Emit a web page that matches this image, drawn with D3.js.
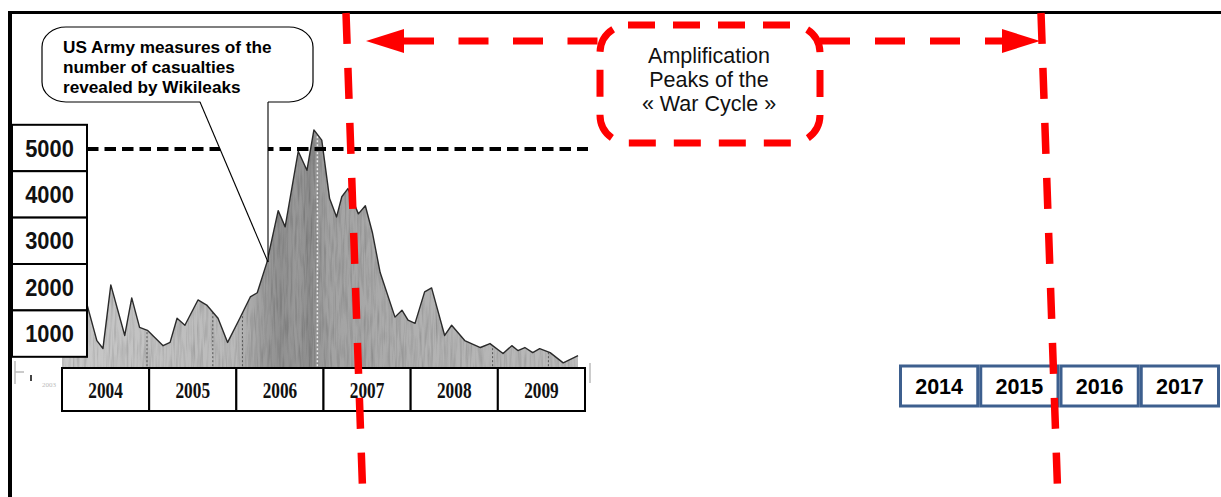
<!DOCTYPE html>
<html><head><meta charset="utf-8">
<script src="https://cdn.jsdelivr.net/npm/d3@7"></script>
<style>html,body{margin:0;padding:0;background:#fff;overflow:hidden}svg{display:block}</style>
</head><body>
<svg id="chart" width="1221" height="497"></svg>
<script>
// ---------------- data ----------------
const casualtyYears = [2004.00, 2004.09, 2004.17, 2004.25, 2004.40, 2004.47, 2004.56, 2004.72, 2004.80, 2004.89,
  2004.98, 2005.16, 2005.24, 2005.32, 2005.41, 2005.56, 2005.66, 2005.79, 2005.90, 2006.04,
  2006.16, 2006.24, 2006.35, 2006.48, 2006.56, 2006.71, 2006.81, 2006.89, 2006.98, 2007.07,
  2007.15, 2007.21, 2007.28, 2007.40, 2007.48, 2007.56, 2007.65, 2007.82, 2007.90, 2007.97,
  2008.05, 2008.16, 2008.24, 2008.39, 2008.47, 2008.62, 2008.80, 2008.91, 2009.06, 2009.16,
  2009.23, 2009.31, 2009.40, 2009.48, 2009.60, 2009.75, 2009.92];
const casualtyValues = [1400, 1600, 1350, 1880, 850, 680, 2050, 960, 1770, 1135,
  1070, 740, 810, 1330, 1180, 1725, 1615, 1330, 810, 1330,
  1790, 1880, 2530, 3650, 3300, 4930, 4520, 5390, 5170, 3910,
  3515, 3950, 4125, 3580, 3755, 3185, 2315, 1355, 1505, 1290,
  1220, 1900, 1985, 960, 1180, 850, 700, 785, 570, 740,
  635, 700, 590, 675, 590, 370, 525];
const yTickValues = [5000, 4000, 3000, 2000, 1000];
const thresholdValue = 5000;
const historyYears = ["2004", "2005", "2006", "2007", "2008", "2009"];
const futureYears = ["2014", "2015", "2016", "2017"];
const darkGridYears = [2004.975, 2005.73, 2006.07, 2008.94, 2009.58];
const lightGridYears = [2006.93];
const calloutLines = ["US Army measures of the", "number of casualties", "revealed by Wikileaks"];
const cycleLines = ["Amplification", "Peaks of the", "« War Cycle »"];
const sourceNote = "2003";

// ---------------- setup ----------------
const svg = d3.select("#chart");
const W = 1221, H = 497;
const RED = "#ff0000";
const SANS = "'Liberation Sans', Arial, sans-serif";
const SERIF = "'Liberation Serif', 'Times New Roman', serif";

const x = d3.scaleLinear().domain([2004, 2010]).range([62, 585]);
const y = d3.scaleLinear().domain([0, 5000]).range([380, 148]);
const histBand = d3.scaleBand().domain(historyYears).range([62, 585]);
const futBand = d3.scaleBand().domain(futureYears).range([899, 1220]);
const labelStep = y(0) - y(1000);

const data = casualtyYears.map((t, i) => ({t, v: casualtyValues[i]}));

const defs = svg.append("defs");
const grad = defs.append("linearGradient").attr("id", "areaFill")
  .attr("gradientUnits", "userSpaceOnUse")
  .attr("x1", x(2004)).attr("x2", x(2010)).attr("y1", 0).attr("y2", 0);
[[2004.0, "#c9c9c9"], [2005.0, "#c2c2c2"], [2006.0, "#b9b9b9"], [2006.25, "#a2a2a2"],
 [2006.5, "#8f8f8f"], [2006.7, "#9a9a9a"], [2006.85, "#8c8c8c"], [2007.05, "#a2a2a2"], [2007.5, "#a8a8a8"],
 [2008.2, "#b2b2b2"], [2010, "#bdbdbd"]].forEach(([t, c]) => {
  grad.append("stop").attr("offset", (x(t) - x(2004)) / (x(2010) - x(2004))).attr("stop-color", c);
});
const grain = defs.append("filter").attr("id", "grain")
  .attr("x", 0).attr("y", 0).attr("width", 1).attr("height", 1);
grain.append("feTurbulence").attr("type", "fractalNoise").attr("baseFrequency", "0.45 0.035")
  .attr("numOctaves", 2).attr("seed", 7).attr("result", "t");
grain.append("feColorMatrix").attr("in", "t").attr("type", "saturate").attr("values", 0).attr("result", "g");
const ct = grain.append("feComponentTransfer").attr("in", "g").attr("result", "g2");
["feFuncR", "feFuncG", "feFuncB"].forEach(f => ct.append(f).attr("type", "linear").attr("slope", 0.9).attr("intercept", 0.48));
ct.append("feFuncA").attr("type", "linear").attr("slope", 0).attr("intercept", 1);
grain.append("feBlend").attr("in", "SourceGraphic").attr("in2", "g2").attr("mode", "multiply").attr("result", "b");
grain.append("feComposite").attr("in", "b").attr("in2", "SourceGraphic").attr("operator", "in");

const areaGen = d3.area().x(d => x(d.t)).y0(y(0)).y1(d => y(d.v));
defs.append("clipPath").attr("id", "areaClip").append("path").attr("d", areaGen(data));

// ---------------- frame ----------------
svg.append("line").attr("x1", 8).attr("x2", W).attr("y1", 12.5).attr("y2", 12.5)
  .attr("stroke", "#000").attr("stroke-width", 3);
svg.append("line").attr("x1", 10).attr("x2", 10).attr("y1", 11).attr("y2", H)
  .attr("stroke", "#000").attr("stroke-width", 4);

// ---------------- area ----------------
svg.append("path").attr("d", areaGen(data)).attr("fill", "url(#areaFill)").attr("filter", "url(#grain)");
const gridG = svg.append("g").attr("clip-path", "url(#areaClip)");
gridG.selectAll("line.dk").data(darkGridYears).join("line")
  .attr("x1", d => x(d)).attr("x2", d => x(d)).attr("y1", y(5600)).attr("y2", y(0))
  .attr("stroke", "#555").attr("stroke-width", 1).attr("stroke-dasharray", "2,2");
gridG.selectAll("line.lt").data(lightGridYears).join("line")
  .attr("x1", d => x(d)).attr("x2", d => x(d)).attr("y1", y(5600)).attr("y2", y(0))
  .attr("stroke", "#eee").attr("stroke-width", 1.5).attr("stroke-dasharray", "2,2");
svg.append("path").attr("d", d3.line().x(d => x(d.t)).y(d => y(d.v))(data))
  .attr("fill", "none").attr("stroke", "#2a2a2a").attr("stroke-width", 1.4).attr("stroke-linejoin", "round");

// threshold dashed line
svg.append("line").attr("x1", 87).attr("x2", 588)
  .attr("y1", y(thresholdValue) + 1).attr("y2", y(thresholdValue) + 1)
  .attr("stroke", "#000").attr("stroke-width", 4).attr("stroke-dasharray", "11.5,6");

// ---------------- callout ----------------
const cb = {x: 42, y: 27, w: 271, h: 75};
const tip = [268, 262];
svg.append("rect").attr("x", cb.x).attr("y", cb.y).attr("width", cb.w).attr("height", cb.h)
  .attr("rx", 24).attr("ry", 20).attr("fill", "#fff").attr("stroke", "#000").attr("stroke-width", 1.2);
svg.append("polygon").attr("points", `200,${cb.y + cb.h - 1} ${tip[0]},${tip[1]} ${tip[0]},${cb.y + cb.h - 1}`)
  .attr("fill", "#fff");
svg.append("line").attr("x1", 200).attr("y1", cb.y + cb.h).attr("x2", tip[0]).attr("y2", tip[1])
  .attr("stroke", "#000").attr("stroke-width", 1.1);
svg.append("line").attr("x1", tip[0]).attr("y1", cb.y + cb.h).attr("x2", tip[0]).attr("y2", tip[1])
  .attr("stroke", "#000").attr("stroke-width", 1.1);
svg.append("g").selectAll("text").data(calloutLines).join("text")
  .attr("x", 63).attr("y", (d, i) => 52.5 + i * 20)
  .attr("font-family", SANS).attr("font-weight", "bold").attr("font-size", 17.2)
  .attr("fill", "#000").text(d => d);

// ---------------- y label boxes ----------------
const yl = svg.append("g");
yl.selectAll("rect").data(yTickValues).join("rect")
  .attr("x", 12).attr("y", d => y(d) - labelStep / 2).attr("width", 75).attr("height", labelStep)
  .attr("fill", "#fff").attr("stroke", "#000").attr("stroke-width", 2);
yl.selectAll("text").data(yTickValues).join("text")
  .attr("transform", d => `translate(49.5,${y(d) + 8.5}) scale(0.95,1.08)`).attr("text-anchor", "middle")
  .attr("font-family", SANS).attr("font-weight", "bold").attr("font-size", 23)
  .attr("fill", "#111").text(d => d);

// ---------------- history year boxes ----------------
const hy = svg.append("g");
hy.selectAll("rect").data(historyYears).join("rect")
  .attr("x", d => histBand(d)).attr("y", 368).attr("width", histBand.bandwidth()).attr("height", 43)
  .attr("fill", "#fff").attr("stroke", "#000").attr("stroke-width", 2);
hy.selectAll("text").data(historyYears).join("text")
  .attr("transform", d => `translate(${histBand(d) + histBand.bandwidth() / 2},398) scale(0.72,1)`)
  .attr("text-anchor", "middle")
  .attr("font-family", SERIF).attr("font-weight", "bold").attr("font-size", 24)
  .attr("fill", "#111").text(d => d);
svg.append("line").attr("x1", 590).attr("x2", 590).attr("y1", 363).attr("y2", 383)
  .attr("stroke", "#999").attr("stroke-width", 1);
svg.append("text").attr("x", 42).attr("y", 387).attr("font-family", SERIF).attr("font-size", 7)
  .attr("fill", "#bbb").text(sourceNote);
svg.append("path").attr("d", "M15,361V384M15,372H24").attr("stroke", "#bbb").attr("stroke-width", 1.5).attr("fill", "none");
svg.append("rect").attr("x", 30).attr("y", 375).attr("width", 2).attr("height", 6).attr("fill", "#444");

// ---------------- future year boxes ----------------
const fy = svg.append("g");
fy.selectAll("rect").data(futureYears).join("rect")
  .attr("x", d => futBand(d) + 1.5).attr("y", 366).attr("width", futBand.bandwidth() - 3).attr("height", 40)
  .attr("fill", "#fff").attr("stroke", "#3d5f8e").attr("stroke-width", 3);
fy.selectAll("text").data(futureYears).join("text")
  .attr("x", d => futBand(d) + futBand.bandwidth() / 2).attr("y", 394).attr("text-anchor", "middle")
  .attr("font-family", SANS).attr("font-weight", "bold").attr("font-size", 21.5)
  .attr("fill", "#000").text(d => d);

// ---------------- red annotations ----------------
const arrowY = 41;
svg.append("line").attr("x1", 404).attr("x2", 600).attr("y1", arrowY).attr("y2", arrowY)
  .attr("stroke", RED).attr("stroke-width", 7).attr("stroke-dasharray", "30,24.5");
svg.append("line").attr("x1", 820).attr("x2", 1004).attr("y1", arrowY).attr("y2", arrowY)
  .attr("stroke", RED).attr("stroke-width", 7).attr("stroke-dasharray", "30,25");
svg.append("polygon").attr("points", `366,${arrowY} 404,${arrowY - 12} 404,${arrowY + 12}`).attr("fill", RED);
svg.append("polygon").attr("points", `1040,${arrowY} 1002,${arrowY - 12} 1002,${arrowY + 12}`).attr("fill", RED);

svg.append("rect").attr("x", 600).attr("y", 25).attr("width", 220).attr("height", 118)
  .attr("rx", 28).attr("ry", 28).attr("fill", "#fff")
  .attr("stroke", RED).attr("stroke-width", 7).attr("stroke-dasharray", "27,18");
svg.append("g").selectAll("text").data(cycleLines).join("text")
  .attr("x", 709).attr("y", (d, i) => 63 + i * 24).attr("text-anchor", "middle")
  .attr("font-family", SANS).attr("font-size", 21.5).attr("fill", "#111").text(d => d);

[[346, 363], [1041, 1058]].forEach(([xt, xb]) => {
  svg.append("line").attr("x1", xt).attr("y1", 13).attr("x2", xb).attr("y2", H + 5)
    .attr("stroke", RED).attr("stroke-width", 7.5).attr("stroke-dasharray", "31,24");
});
</script>
</body></html>
